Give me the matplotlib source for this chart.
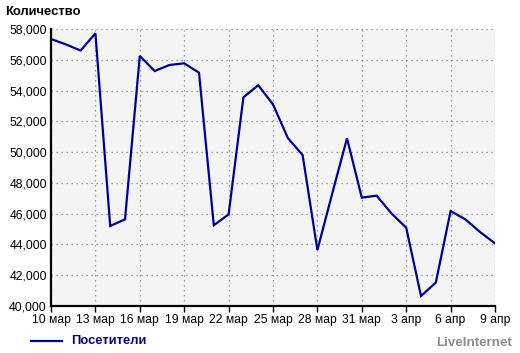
import matplotlib
matplotlib.use("Agg")
import matplotlib.pyplot as plt
from matplotlib.ticker import FuncFormatter, MultipleLocator

plt.rcParams['font.family'] = ['Liberation Sans', 'DejaVu Sans']

days = list(range(31))
visitors = [57350, 57000, 56600, 57720, 45200, 45630, 56250, 55270, 55660, 55770,
            55160, 45250, 45950, 53560, 54350, 53100, 50920, 49810, 43640, 47300,
            50900, 47040, 47170, 46020, 45090, 40650, 41520, 46170, 45630, 44800, 44070]
tick_pos = [0, 3, 6, 9, 12, 15, 18, 21, 24, 27, 30]
tick_labels = ['10 мар', '13 мар', '16 мар', '19 мар', '22 мар', '25 мар',
               '28 мар', '31 мар', '3 апр', '6 апр', '9 апр']

fig = plt.figure(figsize=(5.2, 3.53), dpi=100)
ax = fig.add_axes([51/520, 1-306/353, (495-51)/520, (306-29)/353])
ax.set_facecolor('#f4f4f4')
line, = ax.plot(days, visitors, color='#000099', lw=1.6, solid_joinstyle='miter')
ax.set_xlim(0, 30)
ax.set_ylim(40000, 58000)
ax.yaxis.set_major_locator(MultipleLocator(2000))
ax.yaxis.set_major_formatter(FuncFormatter(lambda v, p: f'{int(v):,}'))
ax.set_xticks(tick_pos)
ax.set_xticklabels(tick_labels)
ax.grid(True, color='#888888', linestyle=(0, (1, 3)), lw=0.9)
for s in ['top', 'right']:
    ax.spines[s].set_visible(False)
for s in ['left', 'bottom']:
    ax.spines[s].set_linewidth(1.6)
    ax.spines[s].set_color('black')
ax.tick_params(axis='x', length=4, width=1, labelsize=8.7, pad=2, colors='black')
ax.tick_params(axis='y', length=0, labelsize=8.8, pad=3, colors='black')

fig.text(5/520, 1-12/353, 'Количество', fontsize=9.4, fontweight='bold', va='center', ha='left')
fig.add_artist(plt.Line2D([31/520, 62/520], [1-341/353, 1-341/353], color='#000099', lw=1.6))
fig.text(71/520, 1-341/353, 'Посетители', fontsize=9.3, fontweight='bold', color='#000099', va='center', ha='left')
fig.text(512/520, 1-343/353, 'LiveInternet', fontsize=9.6, fontweight='bold', color='#8c8c8c', va='center', ha='right')

fig.savefig('out.png', dpi=100)
